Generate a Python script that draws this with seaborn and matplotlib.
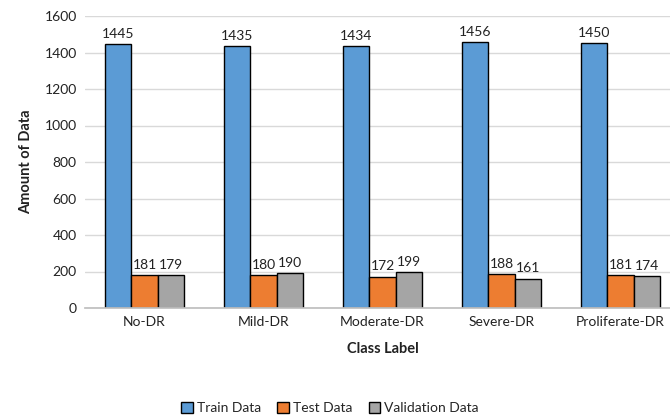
import matplotlib
matplotlib.use("Agg")
import matplotlib.pyplot as plt
import seaborn as sns
import pandas as pd

classes = ["No-DR", "Mild-DR", "Moderate-DR", "Severe-DR", "Proliferate-DR"]
train = [1445, 1435, 1434, 1456, 1450]
test = [181, 180, 172, 188, 181]
validation = [179, 190, 199, 161, 174]
series = ["Train Data", "Test Data", "Validation Data"]
colors = ["#5B9BD5", "#ED7D31", "#A5A5A5"]

df = pd.DataFrame({
    "Class Label": classes * 3,
    "Amount": train + test + validation,
    "Split": [s for s in series for _ in classes],
})

sns.set_theme(style="white")
plt.rcParams["font.family"] = ["Lato", "DejaVu Sans"]

fig = plt.figure(figsize=(6.7, 4.16), dpi=100)
ax = fig.add_axes([85 / 670, (416 - 308) / 416, 595 / 670, 292 / 416])

sns.barplot(data=df, x="Class Label", y="Amount", hue="Split",
            palette=colors, saturation=1, width=0.67, gap=0,
            edgecolor="black", linewidth=1.0, ax=ax, legend=True)

for cont in ax.containers:
    ax.bar_label(cont, padding=3, fontsize=10, color="#222222")

ax.set_ylim(0, 1600)
ax.set_yticks(range(0, 1601, 200))
ax.yaxis.grid(True, color="#D9D9D9", linewidth=1.0)
ax.set_axisbelow(True)
for side in ["left", "right", "top"]:
    ax.spines[side].set_visible(False)
ax.spines["bottom"].set_color("#BFBFBF")
ax.tick_params(axis="both", length=0, labelsize=10, colors="#222222", pad=6)

ax.set_xlabel("Class Label", fontsize=10.5, fontweight="bold", labelpad=10, color="#222222")
ax.set_ylabel("Amount of Data", fontsize=10.5, fontweight="bold", labelpad=8, color="#222222")

handles, labels = ax.get_legend_handles_labels()
ax.legend_.remove()
fig.legend(handles, labels, loc="center", bbox_to_anchor=(330 / 670, 1 - 408 / 416),
           ncol=3, frameon=False, fontsize=10, handlelength=0.8, handleheight=0.8,
           handletextpad=0.3, columnspacing=1.2)

fig.savefig("out.png", dpi=100)
